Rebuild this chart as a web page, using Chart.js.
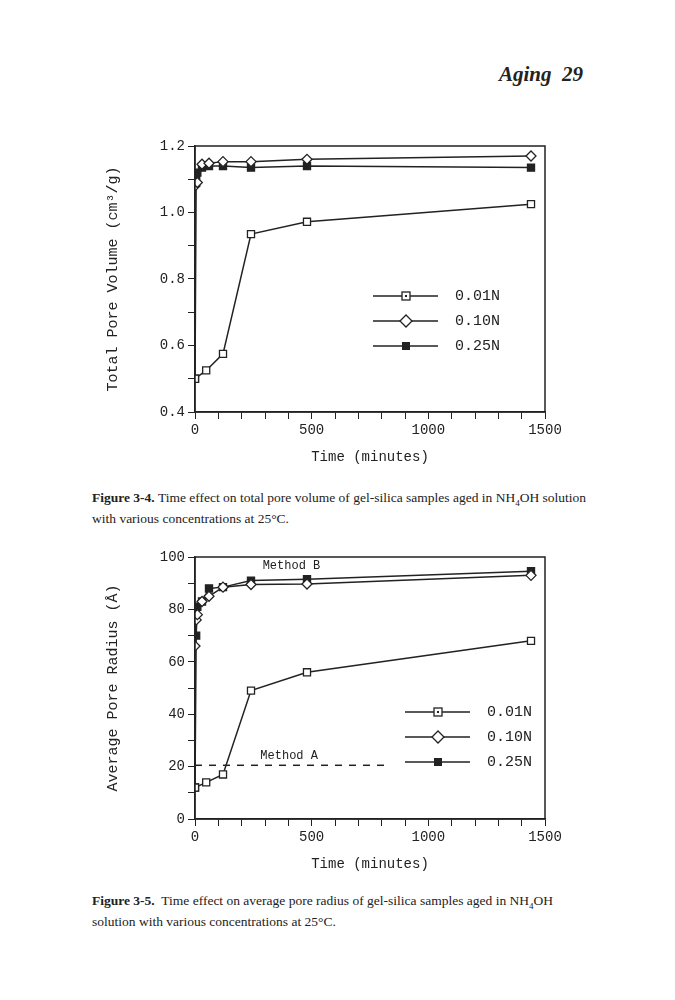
<!DOCTYPE html>
<html><head><meta charset="utf-8">
<script src="https://cdn.jsdelivr.net/npm/chart.js@4.4.0/dist/chart.umd.min.js"></script>
<style>
body{margin:0;background:#fff;width:675px;height:1000px;position:relative;font-family:"Liberation Serif",serif;color:#222}
.hdr{position:absolute;top:62px;right:92px;font-style:italic;font-weight:bold;font-size:21px}
.cap{position:absolute;left:92px;width:500px;font-size:13.5px;line-height:16px}
canvas{position:absolute}
</style></head><body>
<div class="hdr">Aging&nbsp;&nbsp;29</div>
<div style="position:absolute;left:100px;top:120px;width:470px;height:350px"><canvas id="c1"></canvas></div>
<div class="cap" style="top:490px"><b>Figure 3-4.</b> Time effect on total pore volume of gel-silica samples aged in NH<sub style="font-size:9px">4</sub>OH solution with various concentrations at 25°C.</div>
<div style="position:absolute;left:100px;top:530px;width:470px;height:347px"><canvas id="c2"></canvas></div>
<div class="cap" style="top:893px"><b>Figure 3-5.</b>&nbsp; Time effect on average pore radius of gel-silica samples aged in NH<sub style="font-size:9px">4</sub>OH solution with various concentrations at 25°C.</div>
<script>
// Figure 3-4: total pore volume
const vol01Time = [0, 48, 120, 240, 480, 1440];
const vol01 = [0.50, 0.525, 0.575, 0.935, 0.972, 1.025];
const vol10Time = [0, 10, 30, 60, 120, 240, 480, 1440];
const vol10 = [1.08, 1.09, 1.145, 1.148, 1.153, 1.153, 1.16, 1.17];
const vol25Time = [0, 5, 10, 30, 60, 120, 240, 480, 1440];
const vol25 = [0.50, 1.10, 1.12, 1.135, 1.14, 1.14, 1.135, 1.14, 1.135];

// Figure 3-5: average pore radius
const rad01Time = [0, 48, 120, 240, 480, 1440];
const rad01 = [12, 14, 17, 49, 56, 68];
const rad10Time = [0, 5, 10, 30, 60, 120, 240, 480, 1440];
const rad10 = [66, 76, 78, 83, 85, 88.5, 89.5, 89.7, 93];
const rad25Time = [0, 5, 10, 30, 60, 120, 240, 480, 1440];
const rad25 = [12, 70, 81, 83, 88, 88.5, 91, 91.5, 94.6];
const methodATime = [0, 820];
const methodA = [20.5, 20.5];

const mono = '"Liberation Mono", monospace';
const legendNames = ['0.01N', '0.10N', '0.25N'];

const pts = (t, v) => t.map((x, i) => ({ x, y: v[i] }));

// marker drawing for the three concentrations
function drawMarker(ctx, kind, x, y) {
    ctx.save();
    ctx.lineWidth = 1.3;
    ctx.strokeStyle = '#222';
    if (kind === 0) {
        ctx.fillStyle = '#fff';
        ctx.fillRect(x - 4, y - 4, 8, 8); ctx.strokeRect(x - 4, y - 4, 8, 8);
        ctx.fillStyle = '#222'; ctx.fillRect(x - 1, y - 1, 2, 2);
    } else if (kind === 1) {
        ctx.fillStyle = '#fff';
        ctx.beginPath(); ctx.moveTo(x, y - 6); ctx.lineTo(x + 6, y); ctx.lineTo(x, y + 6); ctx.lineTo(x - 6, y); ctx.closePath();
        ctx.fill(); ctx.stroke();
    } else {
        ctx.fillStyle = '#222'; ctx.fillRect(x - 4, y - 4, 8, 8);
    }
    ctx.restore();
}

function series(t, v, kind) {
    return {
        data: pts(t, v), borderColor: '#222', borderWidth: 1.5, kind,
        pointRadius: 5, pointStyle: kind === 1 ? 'rectRot' : 'rect',
        pointBackgroundColor: kind === 2 ? '#222' : '#fff', pointBorderColor: '#222', pointBorderWidth: 1.3
    };
}

const extras = {
    id: 'extras',
    afterDatasetsDraw(chart, args, opts) {
        const { ctx, chartArea: a } = chart;
        ctx.save();
        ctx.strokeStyle = '#222'; ctx.lineWidth = 1.5;
        ctx.strokeRect(a.left, a.top, a.right - a.left, a.bottom - a.top);
        // legend
        ctx.font = '15px ' + mono; ctx.fillStyle = '#222'; ctx.textBaseline = 'middle';
        legendNames.forEach((n, i) => {
            const y = a.top + opts.ly + i * 25;
            ctx.beginPath(); ctx.moveTo(a.left + opts.lx, y); ctx.lineTo(a.left + opts.lx + 65, y); ctx.stroke();
            drawMarker(ctx, i, a.left + opts.lx + 33, y);
            ctx.fillText(n, a.left + opts.lx + 82, y);
        });
        (opts.notes || []).forEach(n => {
            ctx.font = '12px ' + mono;
            ctx.fillText(n.text, chart.scales.x.getPixelForValue(n.x), chart.scales.y.getPixelForValue(n.y));
        });
        ctx.restore();
    }
};

function makeChart(id, datasets, ymin, ymax, ystep, ylabelEvery, ytitle, top, legendPos, notes, fmt) {
    return new Chart(document.getElementById(id), {
        type: 'line',
        data: { datasets },
        plugins: [extras],
        options: {
            animation: false, responsive: true, maintainAspectRatio: false,
            layout: { padding: { top, right: 25, left: 0, bottom: 0 } },
            plugins: { legend: { display: false }, tooltip: { enabled: false }, extras: { ...legendPos, notes } },
            scales: {
                x: {
                    type: 'linear', min: 0, max: 1500,
                    afterFit: s => { s.height = 58; },
                    grid: { drawOnChartArea: false, tickLength: 7, color: '#222' },
                    border: { color: '#222', width: 1.5 },
                    ticks: { stepSize: 100, autoSkip: false, maxRotation: 0, color: '#222', font: { family: mono, size: 14 },
                        callback: v => v % 500 === 0 ? v : '' },
                    title: { display: true, text: 'Time (minutes)', color: '#222', font: { family: mono, size: 14 } }
                },
                y: {
                    min: ymin, max: ymax,
                    afterFit: s => { s.width = 95; },
                    grid: { drawOnChartArea: false, tickLength: 7, color: '#222' },
                    border: { color: '#222', width: 1.5 },
                    ticks: { stepSize: ystep, autoSkip: false, color: '#222', font: { family: mono, size: 14 },
                        callback: v => Math.round(v / ystep) % ylabelEvery === 0 ? fmt(v) : '' },
                    title: { display: true, text: ytitle, color: '#222', font: { family: mono, size: 15 } }
                }
            }
        }
    });
}

makeChart('c1', [series(vol01Time, vol01, 0), series(vol10Time, vol10, 1), series(vol25Time, vol25, 2)],
    0.4, 1.2, 0.1, 2, 'Total Pore Volume (cm³/g)', 26, { lx: 178, ly: 150 }, [], v => v.toFixed(1));

makeChart('c2', [
    series(rad01Time, rad01, 0), series(rad10Time, rad10, 1), series(rad25Time, rad25, 2),
    { data: pts(methodATime, methodA), borderColor: '#222', borderWidth: 1.5, borderDash: [7, 7], pointRadius: 0 }
], 0, 100, 10, 2, 'Average Pore Radius (Å)', 27, { lx: 210, ly: 155 },
    [{ text: 'Method B', x: 290, y: 96.5 }, { text: 'Method A', x: 280, y: 24 }], v => String(v));
</script>
</body></html>
